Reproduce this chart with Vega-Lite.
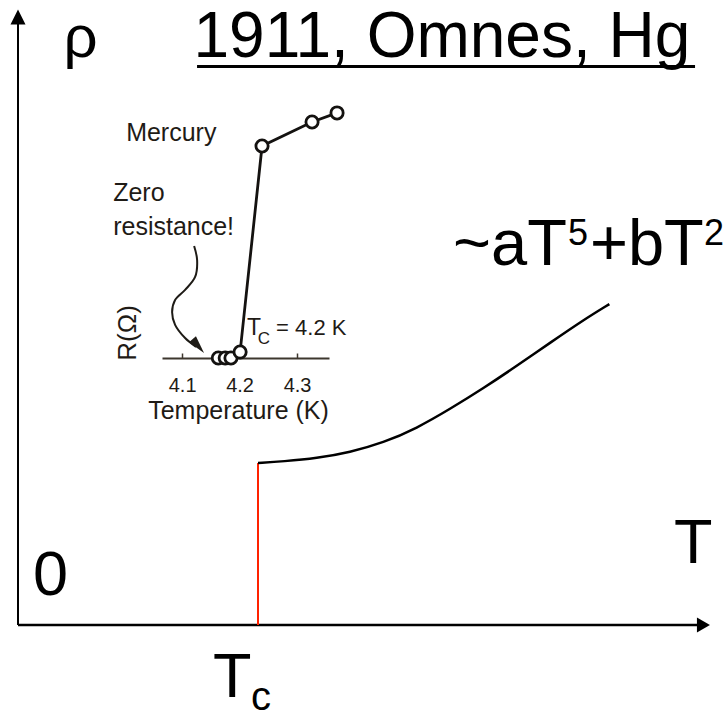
{
  "$schema": "https://vega.github.io/schema/vega-lite/v6.json",
  "width": 726,
  "height": 717,
  "padding": 0,
  "autosize": {"type": "none"},
  "background": "white",
  "config": {"view": {"stroke": null}, "text": {"font": "Liberation Sans"}},
  "layer": [
    {
      "encoding": {
        "x": {"field": "T", "type": "quantitative", "scale": {"domain": [-0.075, 2.95], "nice": false, "zero": false}, "axis": null},
        "y": {"field": "rho", "type": "quantitative", "scale": {"domain": [-0.568, 3.858], "nice": false, "zero": false}, "axis": null}
      },
      "layer": [
        {
          "data": {"values": [{"T": 0, "rho": 0, "rho2": 3.72}]},
          "mark": {"type": "rule", "color": "black", "strokeWidth": 2},
          "encoding": {"y2": {"field": "rho2"}}
        },
        {
          "data": {"values": [{"T": 0, "T2": 2.83, "rho": 0}]},
          "mark": {"type": "rule", "color": "black", "strokeWidth": 2.5},
          "encoding": {"x2": {"field": "T2"}}
        },
        {
          "data": {"values": [{"T": 1, "rho": 0, "rho2": 1}]},
          "mark": {"type": "rule", "color": "#ff2200", "strokeWidth": 2},
          "encoding": {"y2": {"field": "rho2"}}
        },
        {
          "data": {"values": [
            {"T": 1.0, "rho": 1.0},
            {"T": 1.105, "rho": 1.01},
            {"T": 1.245, "rho": 1.029},
            {"T": 1.383, "rho": 1.066},
            {"T": 1.522, "rho": 1.125},
            {"T": 1.661, "rho": 1.214},
            {"T": 1.8, "rho": 1.333},
            {"T": 1.939, "rho": 1.461},
            {"T": 2.078, "rho": 1.599},
            {"T": 2.217, "rho": 1.742},
            {"T": 2.355, "rho": 1.882},
            {"T": 2.464, "rho": 1.981}
          ]},
          "mark": {"type": "line", "color": "black", "strokeWidth": 2.5, "interpolate": "basis"}
        },
        {
          "data": {"values": [{"T": 0, "rho": 3.753}]},
          "mark": {"type": "point", "shape": "M0,-1L1,1L-1,1Z", "filled": true, "color": "black", "opacity": 1, "size": 225, "angle": 0}
        },
        {
          "data": {"values": [{"T": 2.856, "rho": 0}]},
          "mark": {"type": "point", "shape": "M0,-1L1.15,1L-1.15,1Z", "filled": true, "color": "black", "opacity": 1, "size": 169, "angle": 90}
        },
        {
          "data": {"values": [{"T": 0.746, "T2": 2.821, "rho": 3.448}]},
          "mark": {"type": "rule", "color": "black", "strokeWidth": 3},
          "encoding": {"x2": {"field": "T2"}}
        },
        {
          "data": {"values": [{"label": "1911, Omnes, Hg", "T": 0.731, "rho": 3.506}]},
          "mark": {"type": "text", "align": "left", "baseline": "alphabetic", "fontSize": 64, "color": "black"},
          "encoding": {"text": {"field": "label"}}
        },
        {
          "data": {"values": [{"label": "ρ", "T": 0.19, "rho": 3.506}]},
          "mark": {"type": "text", "align": "left", "baseline": "alphabetic", "fontSize": 60, "color": "black"},
          "encoding": {"text": {"field": "label"}}
        },
        {
          "data": {"values": [
            {"label": "0", "T": 0.0625, "rho": 0.185},
            {"label": "T", "T": 2.733, "rho": 0.383},
            {"label": "T", "T": 0.8125, "rho": -0.444}
          ]},
          "mark": {"type": "text", "align": "left", "baseline": "alphabetic", "fontSize": 63, "color": "black"},
          "encoding": {"text": {"field": "label"}}
        },
        {
          "data": {"values": [{"label": "c", "T": 0.971, "rho": -0.525}]},
          "mark": {"type": "text", "align": "left", "baseline": "alphabetic", "fontSize": 40, "color": "black"},
          "encoding": {"text": {"field": "label"}}
        },
        {
          "data": {"values": [
            {"label": "~aT", "T": 1.813, "rho": 2.222},
            {"label": "+bT", "T": 2.383, "rho": 2.222}
          ]},
          "mark": {"type": "text", "align": "left", "baseline": "alphabetic", "fontSize": 65, "color": "black"},
          "encoding": {"text": {"field": "label"}}
        },
        {
          "data": {"values": [
            {"label": "5", "T": 2.292, "rho": 2.346},
            {"label": "2", "T": 2.858, "rho": 2.346}
          ]},
          "mark": {"type": "text", "align": "left", "baseline": "alphabetic", "fontSize": 36, "color": "black"},
          "encoding": {"text": {"field": "label"}}
        }
      ]
    },
    {
      "encoding": {
        "x": {
          "field": "temperature", "type": "quantitative", "title": "Temperature (K)",
          "scale": {"domain": [4.065, 4.3556], "range": [162, 329], "nice": false, "zero": false},
          "axis": {
            "orient": "bottom", "offset": -359, "values": [4.1, 4.2, 4.3], "format": ".1f", "grid": false,
            "domainColor": "#3d372e", "domainWidth": 2.2, "tickColor": "#3d372e", "tickWidth": 1.5, "tickSize": -5,
            "labelFont": "Liberation Sans", "labelFontSize": 20, "labelColor": "#1f1b16", "labelPadding": 22,
            "labelFlush": false, "labelOverlap": false,
            "titleFont": "Liberation Sans", "titleFontSize": 25, "titleFontWeight": "normal", "titleColor": "#1f1b16",
            "titlePadding": 3, "titleX": 238, "titleAlign": "center"
          }
        },
        "y": {
          "field": "resistance", "type": "quantitative",
          "scale": {"domain": [0, 0.125], "range": [358, 101], "nice": false, "zero": false},
          "axis": null
        }
      },
      "layer": [
        {
          "data": {"name": "mercury", "values": [
            {"temperature": 4.163, "resistance": 0},
            {"temperature": 4.175, "resistance": 0},
            {"temperature": 4.185, "resistance": 0},
            {"temperature": 4.2009, "resistance": 0.0029},
            {"temperature": 4.2391, "resistance": 0.1031},
            {"temperature": 4.3261, "resistance": 0.1148},
            {"temperature": 4.3696, "resistance": 0.1192}
          ]},
          "layer": [
            {"mark": {"type": "line", "color": "#141210", "strokeWidth": 2.8}},
            {"mark": {"type": "point", "shape": "circle", "filled": true, "fill": "white", "stroke": "#141210", "strokeWidth": 2.8, "size": 150, "opacity": 1}}
          ]
        },
        {
          "data": {"values": [
            {"i": 0, "temperature": 4.1209, "resistance": 0.0545},
            {"i": 1, "temperature": 4.1261, "resistance": 0.0477},
            {"i": 2, "temperature": 4.1226, "resistance": 0.0394},
            {"i": 3, "temperature": 4.1052, "resistance": 0.0331},
            {"i": 4, "temperature": 4.0878, "resistance": 0.0282},
            {"i": 5, "temperature": 4.0826, "resistance": 0.0224},
            {"i": 6, "temperature": 4.0878, "resistance": 0.0161},
            {"i": 7, "temperature": 4.1052, "resistance": 0.0097},
            {"i": 8, "temperature": 4.1243, "resistance": 0.0054}
          ]},
          "mark": {"type": "line", "color": "#1e1b16", "strokeWidth": 2, "interpolate": "catmull-rom"},
          "encoding": {"order": {"field": "i", "type": "quantitative"}}
        },
        {
          "data": {"values": [{"temperature": 4.1247, "resistance": 0.0069}]},
          "mark": {"type": "point", "shape": "M0,-1L0.38,0.5L-0.38,0.5Z", "filled": true, "color": "#1e1b16", "opacity": 1, "size": 576, "angle": 140}
        },
        {
          "data": {"values": [
            {"label": "Mercury", "temperature": 4.0026, "resistance": 0.1055},
            {"label": "Zero", "temperature": 3.98, "resistance": 0.0764},
            {"label": "resistance!", "temperature": 3.98, "resistance": 0.0598}
          ]},
          "mark": {"type": "text", "align": "left", "baseline": "alphabetic", "fontSize": 25, "color": "#1f1b16"},
          "encoding": {"text": {"field": "label"}}
        },
        {
          "data": {"values": [{"label": "R(Ω)", "temperature": 4.0061, "resistance": 0.0122}]},
          "mark": {"type": "text", "align": "center", "baseline": "middle", "angle": 270, "fontSize": 26, "color": "#1f1b16"},
          "encoding": {"text": {"field": "label"}}
        },
        {
          "data": {"values": [{"label": "T", "temperature": 4.213, "resistance": 0.0112}]},
          "mark": {"type": "text", "align": "left", "baseline": "alphabetic", "fontSize": 23, "color": "#1f1b16"},
          "encoding": {"text": {"field": "label"}}
        },
        {
          "data": {"values": [{"label": "C", "temperature": 4.2315, "resistance": 0.0068}]},
          "mark": {"type": "text", "align": "left", "baseline": "alphabetic", "fontSize": 17, "color": "#1f1b16"},
          "encoding": {"text": {"field": "label"}}
        },
        {
          "data": {"values": [{"label": "= 4.2 K", "temperature": 4.2635, "resistance": 0.0112}]},
          "mark": {"type": "text", "align": "left", "baseline": "alphabetic", "fontSize": 22, "color": "#1f1b16"},
          "encoding": {"text": {"field": "label"}}
        }
      ]
    }
  ],
  "resolve": {"scale": {"x": "independent", "y": "independent"}}
}
